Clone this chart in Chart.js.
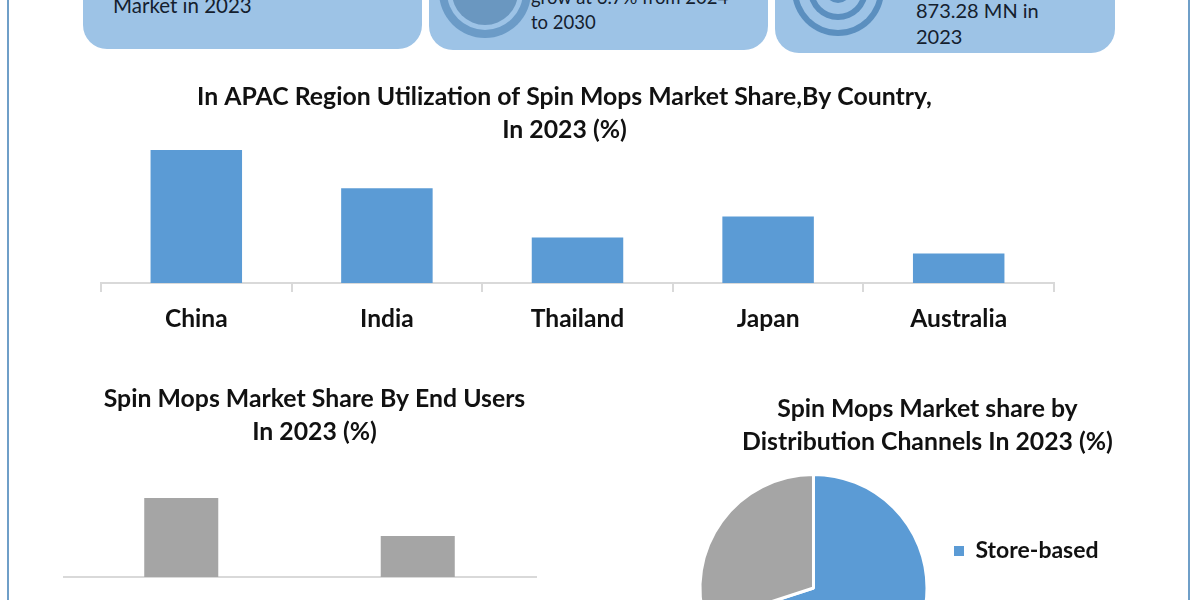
<!DOCTYPE html>
<html>
<head>
<meta charset="utf-8">
<title>Spin Mops Market</title>
<script src="https://cdn.jsdelivr.net/npm/chart.js@4"></script>
<style>
    html, body { margin: 0; width: 1200px; height: 600px; overflow: hidden; background: #fff; }
    body { position: relative; font-family: Lato, sans-serif; color: #14202e; }
    canvas { position: absolute; }
    .edge { position: absolute; top: 0; width: 2px; height: 600px; background: #6f9fc8; }
    .card { position: absolute; top: -60px; background: #9dc3e6; border-radius: 24px; }
    .note { position: absolute; font-size: 20px; line-height: 26px; white-space: nowrap; }
    .small { font-size: 18.5px; }
    svg { position: absolute; left: 0; top: 0; }
</style>
</head>
<body>
<div class="edge" style="left:7px"></div>
<div class="edge" style="left:1188px"></div>

<div class="card" style="left:83px;width:339px;height:109px"></div>
<div class="card" style="left:429px;width:339px;height:110px"></div>
<div class="card" style="left:775px;width:340px;height:113px"></div>

<svg width="1200" height="60">
    <circle cx="485" cy="-8" r="46" fill="#6b9bc7"/>
    <circle cx="485" cy="-8" r="38" fill="#9dc3e6"/>
    <circle cx="485" cy="-8" r="33" fill="#6a97c0"/>
    <circle cx="838" cy="-10" r="46" fill="#5b8fbf"/>
    <circle cx="838" cy="-10" r="40" fill="#9dc3e6"/>
    <circle cx="838" cy="-10" r="30" fill="#5b8fbf"/>
    <circle cx="838" cy="-10" r="24" fill="#9dc3e6"/>
    <circle cx="838" cy="-10" r="13" fill="#5b8fbf"/>
</svg>

<div class="note" style="left:113px;top:-8px;font-size:20.5px">Market in 2023</div>
<div class="note small" style="left:531px;top:-16px">grow at 6.7% from 2024</div>
<div class="note small" style="left:531px;top:9px">to 2030</div>
<div class="note" style="left:916px;top:-3px">873.28 MN in</div>
<div class="note" style="left:916px;top:23px">2023</div>

<canvas id="chart-country" width="981" height="265" style="left:75px;top:81px"></canvas>
<canvas id="chart-users" width="503" height="264" style="left:63px;top:383px"></canvas>
<canvas id="chart-channels" width="465" height="310" style="left:695px;top:393px"></canvas>

<script>
const countries = ['China', 'India', 'Thailand', 'Japan', 'Australia'];
const countryShare = [36, 25.7, 12.3, 18, 8];

const endUsers = ['Residential', 'Commercial'];
const endUserShare = [65.8, 34.2];

const channels = ['Store-based', 'Non-Store-based'];
const channelShare = [70, 30];

const BLUE = '#5b9bd5';
const GREY = '#a5a5a5';
const AXIS = '#d9d9d9';
const FONT = 'Lato, sans-serif';

function titleOptions(lines, bottom) {
    return {
        display: true,
        text: lines,
        color: '#111',
        font: { family: FONT, size: 24.8, weight: 'bold', lineHeight: '33px' },
        padding: { top: 0, bottom: bottom }
    };
}

// the y axis is never seen, it only holds room so the title sits off centre
function hiddenY(max, position, room) {
    return {
        display: true,
        position: position,
        min: 0,
        max: max,
        grid: { display: false },
        border: { display: false },
        ticks: { display: false },
        afterFit: (axis) => { axis.width = room; }
    };
}

function categoryX(tickLength, tickPad) {
    return {
        grid: { drawOnChartArea: false, color: AXIS, lineWidth: 2, tickLength: tickLength },
        border: { color: AXIS, width: 2 },
        ticks: {
            color: '#111',
            padding: tickPad,
            font: { family: FONT, size: 24.6, weight: 'bold', lineHeight: '30px' }
        }
    };
}

// legend sits lower and closer to the pie than the layout would put it
const legendNudge = {
    id: 'legendNudge',
    afterLayout(chart) {
        chart.legend.left -= 16;
        chart.legend.top += 67;
    }
};

// default pie legend items, without the white slice border around the swatch
function plainSwatches(chart) {
    const items = Chart.overrides.pie.plugins.legend.labels.generateLabels(chart);
    items.forEach((item) => { item.lineWidth = 0; });
    return items;
}

new Chart(document.getElementById('chart-country'), {
    type: 'bar',
    data: {
        labels: countries,
        datasets: [{ data: countryShare, backgroundColor: BLUE, barPercentage: 0.96, categoryPercentage: 0.5 }]
    },
    options: {
        responsive: false,
        animation: false,
        layout: { padding: { right: 2 } },
        plugins: {
            legend: { display: false },
            title: titleOptions(['In APAC Region Utilization of Spin Mops Market Share,By Country,', 'In 2023 (%)'], 2)
        },
        scales: {
            x: categoryX(9, 12),
            y: hiddenY(36.3, 'left', 26)
        }
    }
});

new Chart(document.getElementById('chart-users'), {
    type: 'bar',
    data: {
        labels: endUsers,
        datasets: [{ data: endUserShare, backgroundColor: GREY, barPercentage: 0.626, categoryPercentage: 0.5 }]
    },
    options: {
        responsive: false,
        animation: false,
        plugins: {
            legend: { display: false },
            title: titleOptions(['Spin Mops Market Share By End Users', 'In 2023 (%)'], 32)
        },
        scales: {
            x: categoryX(0, 20),
            y: hiddenY(80, 'right', 30)
        }
    }
});

new Chart(document.getElementById('chart-channels'), {
    type: 'pie',
    data: {
        labels: channels,
        datasets: [{ data: channelShare, backgroundColor: [BLUE, GREY], borderColor: '#fff', borderWidth: 3 }]
    },
    plugins: [legendNudge],
    options: {
        responsive: false,
        animation: false,
        plugins: {
            legend: {
                position: 'right',
                maxWidth: 228,
                labels: {
                    color: '#111',
                    boxWidth: 10,
                    boxHeight: 10,
                    padding: 38,
                    font: { family: FONT, size: 23, weight: 'bold' },
                    generateLabels: plainSwatches
                }
            },
            title: titleOptions(['Spin Mops Market share by', 'Distribution Channels In 2023 (%)'], 14)
        }
    }
});
</script>
</body>
</html>
